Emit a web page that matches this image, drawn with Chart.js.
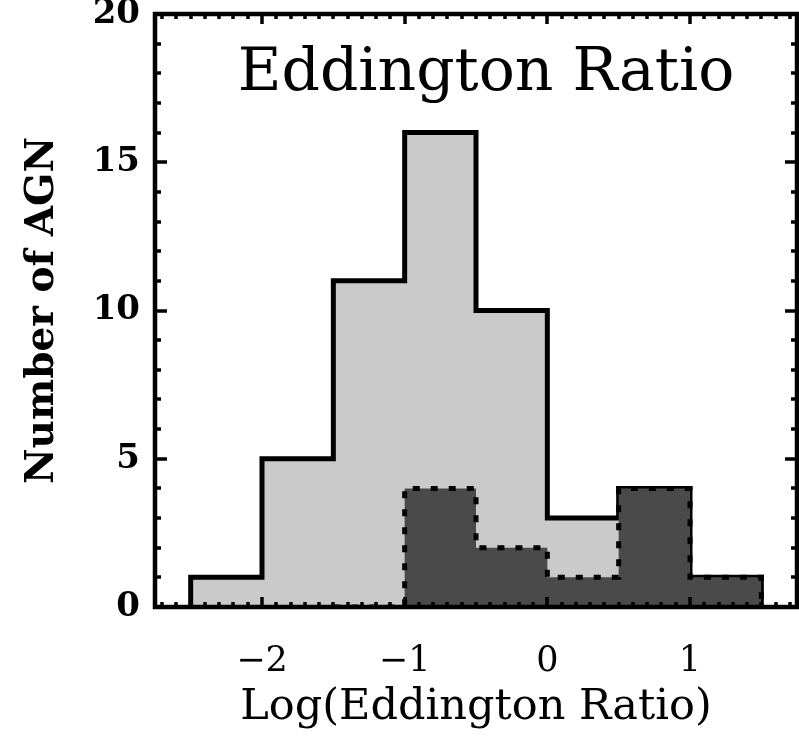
<!DOCTYPE html>
<html>
<head>
<meta charset="utf-8">
<script src="https://cdn.jsdelivr.net/npm/chart.js@4/dist/chart.umd.min.js"></script>
<style>
  html, body { margin: 0; padding: 0; background: #fff; }
  #wrap { width: 799px; height: 736px; }
</style>
</head>
<body>
<div id="wrap"><canvas id="myChart" width="799" height="736"></canvas></div>
<script>
// histogram bins (log Eddington ratio), width 0.5
var binEdges = [-2.5, -2, -1.5, -1, -0.5, 0, 0.5, 1, 1.5];
// all AGN (light grey, solid outline)
var allCounts = [1, 5, 11, 16, 10, 3, 4, 1];
// subsample (dark grey, dotted outline); null = bin not drawn
var subCounts = [null, null, 0, 4, 2, 1, 4, 1];
var xTicks = [-2, -1, 0, 1];
var yTicks = [0, 5, 10, 15, 20];
var plotTitle = 'Eddington Ratio';
var xTitle = 'Log(Eddington Ratio)';
var yTitle = 'Number of AGN';

function histPoints(edges, counts) {
    var pts = [];
    var first = -1, last = -1;
    counts.forEach(function (c, i) {
        if (c !== null) {
            if (first < 0) first = i;
            last = i;
        }
    });
    pts.push({x: edges[first], y: 0});
    for (var i = first; i <= last; i++) {
        pts.push({x: edges[i], y: counts[i]});
    }
    pts.push({x: edges[last + 1], y: 0});
    return pts;
}

var frameTicks = {
    id: 'frameTicks',
    afterDatasetsDraw: function (chart) {
        var ctx = chart.ctx;
        var a = chart.chartArea;
        var xs = chart.scales.x, ys = chart.scales.y;
        ctx.save();
        ctx.strokeStyle = '#000';
        ctx.lineWidth = 3.5;
        ctx.lineCap = 'butt';
        ctx.beginPath();
        // x ticks every 0.1, major on integers
        for (var k = -27; k <= 17; k++) {
            var v = k / 10;
            var px = Math.round(xs.getPixelForValue(v));
            var len = (k % 10 === 0) ? 10 : 5;
            ctx.moveTo(px, a.bottom); ctx.lineTo(px, a.bottom - len);
            ctx.moveTo(px, a.top); ctx.lineTo(px, a.top + len);
        }
        // y ticks every 1, major every 5
        for (var j = 1; j < 20; j++) {
            var py = Math.round(ys.getPixelForValue(j));
            var l2 = (j % 5 === 0) ? 12 : 6;
            ctx.moveTo(a.left, py); ctx.lineTo(a.left + l2, py);
            ctx.moveTo(a.right, py); ctx.lineTo(a.right - l2, py);
        }
        ctx.stroke();
        ctx.lineWidth = 4.5;
        ctx.strokeRect(a.left, a.top, a.right - a.left, a.bottom - a.top);
        // title inside plot
        ctx.fillStyle = '#000';
        ctx.font = '60px "DejaVu Serif"';
        ctx.textAlign = 'center';
        ctx.textBaseline = 'alphabetic';
        ctx.fillText(plotTitle, 486, 90);
        ctx.restore();
    }
};

function initGraph() {
    Chart.defaults.font.family = '"DejaVu Serif"';
    Chart.defaults.color = '#000';
    var data = {
        datasets: [{
            label: 'sub',
            data: histPoints(binEdges, subCounts),
            stepped: 'before',
            fill: 'origin',
            backgroundColor: '#4a4a4a',
            borderColor: '#000',
            borderWidth: 5,
            borderDash: [7, 11],
            pointRadius: 0,
            order: 0
        }, {
            label: 'all',
            data: histPoints(binEdges, allCounts),
            stepped: 'before',
            fill: 'origin',
            backgroundColor: '#cacaca',
            borderColor: '#000',
            borderWidth: 5,
            pointRadius: 0,
            order: 1
        }]
    };
    var config = {
        type: 'line',
        data: data,
        plugins: [frameTicks],
        options: {
            animation: false,
            responsive: false,
            layout: {padding: {top: 14, right: 2, left: 0, bottom: 0}},
            plugins: {legend: {display: false}, tooltip: {enabled: false}},
            scales: {
                x: {
                    type: 'linear',
                    min: -2.75,
                    max: 1.75,
                    grid: {display: false, drawTicks: false, tickLength: 0},
                    border: {display: false},
                    afterBuildTicks: function (s) {
                        s.ticks = xTicks.map(function (v) { return {value: v}; });
                    },
                    afterFit: function (s) {
                        s.height = 129;
                        s.paddingLeft = 0;
                        s.paddingRight = 0;
                    },
                    ticks: {
                        font: {size: 35},
                        padding: 34,
                        maxRotation: 0,
                        callback: function (v) { return String(v).replace('-', '\u2212'); }
                    },
                    title: {
                        display: true,
                        text: xTitle,
                        font: {size: 43, lineHeight: 1.2},
                        padding: {top: 0, bottom: 2}
                    }
                },
                y: {
                    min: 0,
                    max: 20,
                    grid: {display: false, drawTicks: false, tickLength: 0},
                    border: {display: false},
                    afterBuildTicks: function (s) {
                        s.ticks = yTicks.map(function (v) { return {value: v}; });
                    },
                    afterFit: function (s) {
                        s.width = 155;
                        s.paddingTop = 0;
                        s.paddingBottom = 0;
                    },
                    ticks: {
                        font: {size: 34, weight: 'bold'},
                        padding: 15
                    },
                    title: {
                        display: true,
                        text: yTitle,
                        font: {size: 39, weight: 'bold', lineHeight: 1.2},
                        padding: {top: 19, bottom: 0}
                    }
                }
            }
        }
    };
    var myChart = new Chart(document.getElementById('myChart'), config);
}
initGraph();
</script>
</body>
</html>
